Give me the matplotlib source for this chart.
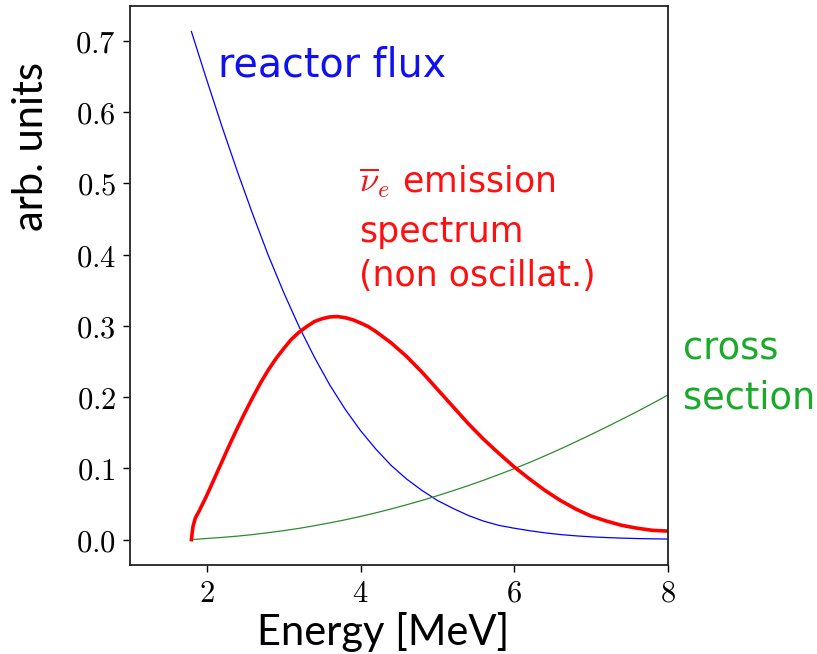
import matplotlib
matplotlib.use("Agg")
import matplotlib.pyplot as plt

plt.rcParams["mathtext.fontset"] = "cm"

# Energy grid (MeV) shared by the flux and cross-section curves
energy = [1.8, 2.0, 2.2, 2.4, 2.6, 2.8, 3.0, 3.2, 3.4, 3.6, 3.8, 4.0, 4.2, 4.4,
          4.6, 4.8, 5.0, 5.2, 5.4, 5.6, 5.8, 6.0, 6.2, 6.4, 6.6, 6.8, 7.0, 7.2,
          7.4, 7.6, 7.8, 8.0]

reactor_flux = [0.713, 0.645, 0.579, 0.516, 0.456, 0.399, 0.347, 0.299, 0.256,
                0.217, 0.183, 0.153, 0.127, 0.104, 0.085, 0.069, 0.055, 0.044,
                0.034, 0.026, 0.020, 0.016, 0.0125, 0.0095, 0.0071, 0.0053,
                0.0039, 0.0029, 0.0021, 0.0015, 0.0011, 0.0008]

cross_section = [0.0, 0.0016, 0.0031, 0.0049, 0.0071, 0.0097, 0.0126, 0.0158,
                 0.0195, 0.0235, 0.0278, 0.0325, 0.0376, 0.0431, 0.0489, 0.0550,
                 0.0616, 0.0685, 0.0757, 0.0833, 0.0913, 0.0996, 0.1083, 0.1176,
                 0.1272, 0.1372, 0.1475, 0.1580, 0.1688, 0.1798, 0.1912, 0.2030]

# Detected antineutrino spectrum (finer sampling around threshold and peak)
spec_energy = [1.8, 1.82, 1.85, 1.9, 2.0, 2.1, 2.2, 2.3, 2.4, 2.5, 2.6, 2.7,
               2.8, 2.9, 3.0, 3.1, 3.2, 3.3, 3.4, 3.5, 3.6, 3.7, 3.8, 3.9, 4.0,
               4.1, 4.2, 4.4, 4.6, 4.8, 5.0, 5.2, 5.4, 5.6, 5.8, 6.0, 6.2, 6.4,
               6.6, 6.8, 7.0, 7.2, 7.4, 7.6, 7.8, 8.0]
spectrum = [0.0, 0.018, 0.030, 0.040, 0.062, 0.086, 0.110, 0.134, 0.157, 0.179,
            0.200, 0.220, 0.238, 0.254, 0.268, 0.281, 0.291, 0.299, 0.306,
            0.310, 0.3125, 0.313, 0.3115, 0.3085, 0.304, 0.299, 0.292, 0.276,
            0.257, 0.235, 0.211, 0.187, 0.163, 0.141, 0.121, 0.102, 0.085,
            0.069, 0.055, 0.043, 0.033, 0.026, 0.020, 0.016, 0.013, 0.012]

x_ticks = [2, 4, 6, 8]
y_ticks = [0.0, 0.1, 0.2, 0.3, 0.4, 0.5, 0.6, 0.7]

fig = plt.figure(figsize=(8.17, 6.54), dpi=100)
ax = fig.add_axes([0.159, 0.136, 0.6586, 0.855])

ax.plot(energy, reactor_flux, color="#0000ff", lw=0.9)
ax.plot(energy, cross_section, color="#2e8b2e", lw=0.9)
ax.plot(spec_energy, spectrum, color="#ff0000", lw=2.6,
        solid_joinstyle="round")

ax.set_xlim(1, 8)
ax.set_ylim(-0.0357, 0.749)
ax.set_xticks(x_ticks)
ax.set_xticklabels([f"${t}$" for t in x_ticks])
ax.set_yticks(y_ticks)
ax.set_yticklabels([f"${t:.1f}$" for t in y_ticks])
ax.tick_params(labelsize=22, length=5, width=1.0, direction="out", pad=5)
for s in ax.spines.values():
    s.set_linewidth(1.3)
    s.set_color("#222222")

ax.set_xlabel("Energy [MeV]", family="Lato", fontsize=30)
ax.xaxis.set_label_coords(0.470, -0.084)
ax.set_ylabel("arb. units", family="Lato", fontsize=30)
ax.yaxis.set_label_coords(-0.148, 0.749)

note = dict(family="DejaVu Sans", va="baseline", ha="left")
ax.text(2.14, 0.650, "reactor flux", color="#1010f0", fontsize=28.5, **note)
ax.text(3.98, 0.487, r"$\overline{\nu}_e$ emission", color="#ff1010",
        fontsize=25, **note)
ax.text(3.98, 0.418, "spectrum", color="#ff1010", fontsize=25, **note)
ax.text(3.98, 0.356, "(non oscillat.)", color="#ff1010", fontsize=25, **note)
ax.text(8.20, 0.253, "cross", color="#1aaa2a", fontsize=26.5, clip_on=False,
        **note)
ax.text(8.20, 0.184, "section", color="#1aaa2a", fontsize=26.5, clip_on=False,
        **note)

fig.savefig("out.png", dpi=100)
